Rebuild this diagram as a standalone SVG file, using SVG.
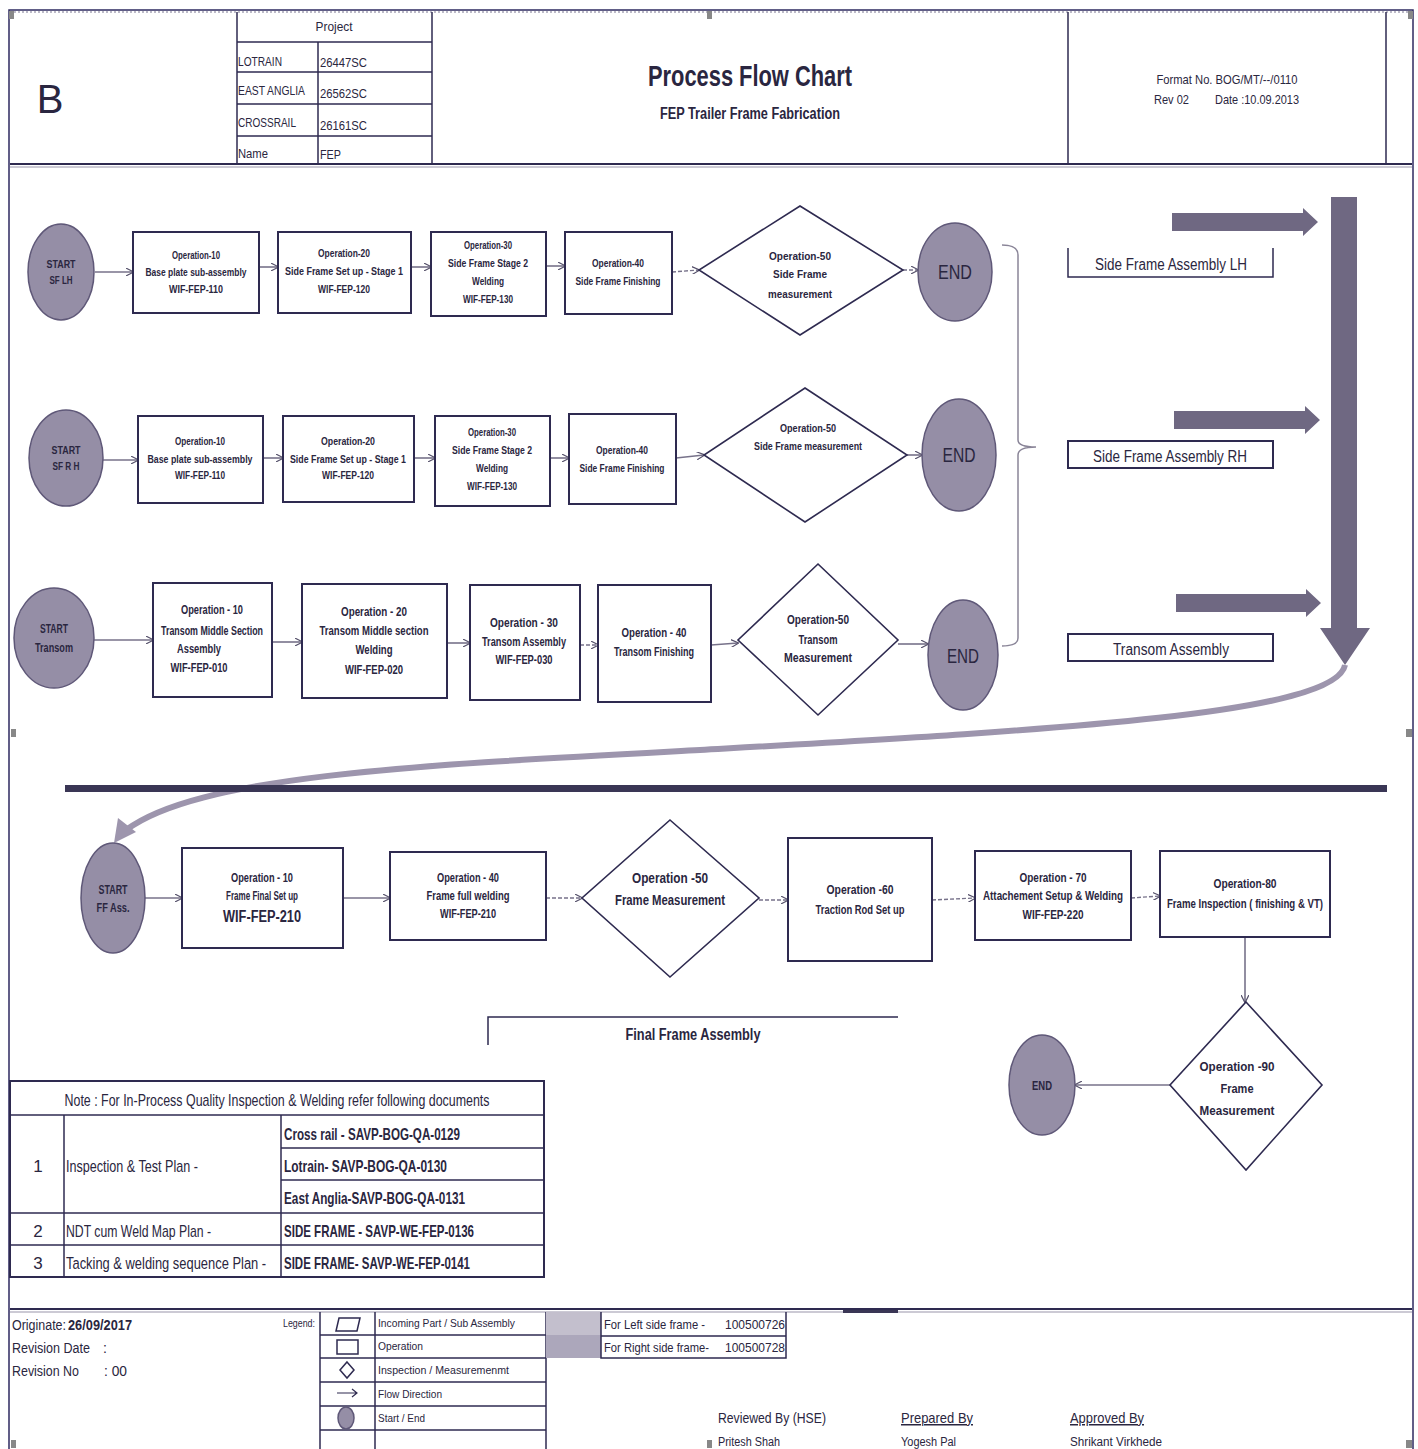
<svg xmlns="http://www.w3.org/2000/svg" width="1418" height="1449" viewBox="0 0 1418 1449">
<style>
.t{font-family:"Liberation Sans",Arial,sans-serif;fill:#2a2640}
.b{font-weight:bold}
.box{fill:#fff;stroke:#2e2a50;stroke-width:2}
.dia{fill:#fff;stroke:#2e2a50;stroke-width:1.6}
.ell{fill:#958ea6;stroke:#5f5878;stroke-width:1.5}
.ln{stroke:#2e2a50;stroke-width:1.5;fill:none}
.con{stroke:#77728a;stroke-width:1.6;fill:none;marker-end:url(#ah)}
.dcon{stroke:#77728a;stroke-width:1.4;fill:none;stroke-dasharray:4 2;marker-end:url(#ah)}
.blk{fill:#6f6882}
.h{fill:#888}
</style>
<defs>
<marker id="ah" viewBox="0 0 10 10" refX="9" refY="5" markerWidth="8" markerHeight="8" orient="auto" markerUnits="userSpaceOnUse">
<path d="M0,0 L10,5 L0,10" fill="none" stroke="#55506a" stroke-width="1.5"/>
</marker>
</defs>
<rect width="1418" height="1449" fill="#fff"/>
<!-- page frame -->
<rect x="9" y="10" width="1404" height="1445" fill="none" stroke="#2e2a60" stroke-width="1.5"/>
<line x1="10" y1="12" x2="1412" y2="12" stroke="#7a7690" stroke-width="1" stroke-dasharray="2 2"/>
<rect x="9" y="11" width="5" height="8" class="h"/><rect x="707" y="11" width="5" height="8" class="h"/><rect x="1408" y="11" width="5" height="8" class="h"/>
<rect x="11" y="729" width="5" height="8" class="h"/><rect x="1406" y="729" width="6" height="8" class="h"/>
<rect x="11" y="1440" width="5" height="8" class="h"/><rect x="707" y="1440" width="5" height="8" class="h"/><rect x="1406" y="1440" width="6" height="8" class="h"/>

<!-- header -->
<g id="header">
<line x1="10" y1="164" x2="1412" y2="164" stroke="#2e2a50" stroke-width="2"/>
<line x1="10" y1="167" x2="1412" y2="167" stroke="#9995aa" stroke-width="1"/>
<line x1="237" y1="12" x2="237" y2="164" class="ln"/>
<line x1="432" y1="12" x2="432" y2="164" class="ln"/>
<line x1="1068" y1="12" x2="1068" y2="164" class="ln"/>
<line x1="1386" y1="12" x2="1386" y2="164" class="ln"/>
<line x1="237" y1="42" x2="432" y2="42" class="ln"/>
<line x1="237" y1="72" x2="432" y2="72" class="ln"/>
<line x1="237" y1="104" x2="432" y2="104" class="ln"/>
<line x1="237" y1="136" x2="432" y2="136" class="ln"/>
<line x1="318" y1="42" x2="318" y2="164" class="ln"/>
<text x="50" y="113" class="t" font-size="40" text-anchor="middle">B</text>
<text x="334" y="31" class="t" font-size="13" text-anchor="middle" textLength="37" lengthAdjust="spacingAndGlyphs">Project</text>
<text x="238" y="66" class="t" font-size="13" textLength="44" lengthAdjust="spacingAndGlyphs">LOTRAIN</text>
<text x="320" y="67" class="t" font-size="13" textLength="47" lengthAdjust="spacingAndGlyphs">26447SC</text>
<text x="238" y="95" class="t" font-size="13" textLength="67" lengthAdjust="spacingAndGlyphs">EAST ANGLIA</text>
<text x="320" y="98" class="t" font-size="13" textLength="47" lengthAdjust="spacingAndGlyphs">26562SC</text>
<text x="238" y="127" class="t" font-size="13" textLength="58" lengthAdjust="spacingAndGlyphs">CROSSRAIL</text>
<text x="320" y="130" class="t" font-size="13" textLength="47" lengthAdjust="spacingAndGlyphs">26161SC</text>
<text x="238" y="158" class="t" font-size="13" textLength="30" lengthAdjust="spacingAndGlyphs">Name</text>
<text x="320" y="159" class="t" font-size="13" textLength="21" lengthAdjust="spacingAndGlyphs">FEP</text>
<text x="750" y="86" class="t b" font-size="29" text-anchor="middle" textLength="204" lengthAdjust="spacingAndGlyphs">Process Flow Chart</text>
<text x="750" y="119" class="t b" font-size="16" text-anchor="middle" textLength="180" lengthAdjust="spacingAndGlyphs">FEP Trailer Frame Fabrication</text>
<text x="1227" y="84" class="t" font-size="13" text-anchor="middle" textLength="141" lengthAdjust="spacingAndGlyphs">Format No. BOG/MT/--/0110</text>
<text x="1154" y="104" class="t" font-size="13" textLength="35" lengthAdjust="spacingAndGlyphs">Rev 02</text>
<text x="1215" y="104" class="t" font-size="13" textLength="84" lengthAdjust="spacingAndGlyphs">Date :10.09.2013</text>
</g>

<!-- Block arrows and curve -->
<g id="block-arrows">
<path class="blk" d="M1172,213 H1303 V208 L1318,222 L1303,236 V231 H1172 Z"/>
<path class="blk" d="M1174,411 H1305 V406 L1320,420 L1305,434 V429 H1174 Z"/>
<path class="blk" d="M1176,594 H1306 V589 L1321,603 L1306,617 V612 H1176 Z"/>
<path class="blk" d="M1331,197 H1357 V628 H1370 L1345,665 L1320,628 H1331 Z"/>
<path d="M1345,665 C1335,715 1050,730 700,750 C420,765 200,775 126,830" fill="none" stroke="#9d95ad" stroke-width="6"/>
<path d="M114,843 L118,818 L136,832 Z" fill="#9d95ad"/>
<rect x="65" y="785" width="1322" height="7" fill="#3a3655"/>
</g>

<!-- brace -->
<g id="brace">
<path d="M1002,245 Q1018,245 1018,255 V440 Q1018,447 1036,447 Q1018,447 1018,455 V638 Q1018,646 1002,646" fill="none" stroke="#8a8598" stroke-width="1.5"/>
</g>

<!-- right labels -->
<g id="label-lh">
<path d="M1068,248 V277 H1273 V248" class="ln"/>
<text x="1171" y="270" class="t" font-size="16" text-anchor="middle" textLength="152" lengthAdjust="spacingAndGlyphs">Side Frame Assembly LH</text>
</g>
<g id="label-rh">
<rect x="1068" y="441" width="205" height="27" class="box" stroke-width="1.5"/>
<text x="1170" y="462" class="t" font-size="16" text-anchor="middle" textLength="154" lengthAdjust="spacingAndGlyphs">Side Frame Assembly RH</text>
</g>
<g id="label-transom">
<rect x="1068" y="634" width="205" height="27" class="box" stroke-width="1.5"/>
<text x="1171" y="655" class="t" font-size="16" text-anchor="middle" textLength="116" lengthAdjust="spacingAndGlyphs">Transom Assembly</text>
</g>

<!-- connectors -->
<g id="connectors">
<line x1="95" y1="272" x2="133" y2="272" class="con"/>
<line x1="259" y1="267" x2="278" y2="267" class="con"/>
<line x1="411" y1="267" x2="431" y2="267" class="con"/>
<line x1="546" y1="266" x2="565" y2="266" class="con"/>
<line x1="672" y1="272" x2="699" y2="270" class="dcon"/>
<line x1="903" y1="270" x2="918" y2="270" class="dcon"/>

<line x1="103" y1="460" x2="138" y2="460" class="con"/>
<line x1="263" y1="458" x2="283" y2="458" class="con"/>
<line x1="414" y1="458" x2="435" y2="458" class="con"/>
<line x1="550" y1="458" x2="569" y2="458" class="con"/>
<line x1="676" y1="458" x2="704" y2="455" class="con"/>
<line x1="907" y1="455" x2="922" y2="455" class="con"/>

<line x1="94" y1="640" x2="153" y2="640" class="con"/>
<line x1="272" y1="642" x2="302" y2="642" class="con"/>
<line x1="447" y1="643" x2="470" y2="643" class="con"/>
<line x1="580" y1="645" x2="598" y2="645" class="dcon"/>
<line x1="711" y1="645" x2="738" y2="643" class="con"/>
<line x1="898" y1="644" x2="928" y2="644" class="con"/>

<line x1="145" y1="898" x2="182" y2="898" class="con"/>
<line x1="343" y1="898" x2="390" y2="898" class="con"/>
<line x1="546" y1="898" x2="582" y2="898" class="dcon"/>
<line x1="759" y1="900" x2="788" y2="900" class="dcon"/>
<line x1="932" y1="900" x2="975" y2="898" class="dcon"/>
<line x1="1131" y1="898" x2="1160" y2="896" class="dcon"/>
<line x1="1245" y1="937" x2="1245" y2="1002" class="con"/>
<line x1="1170" y1="1085" x2="1075" y2="1085" class="con"/>
</g>

<!-- Row 1 -->
<g id="start-sflh"><ellipse cx="61" cy="272" rx="33" ry="48" class="ell"/>
<text x="61" y="268" class="t b" font-size="11" text-anchor="middle" textLength="29" lengthAdjust="spacingAndGlyphs">START</text><text x="61" y="284" class="t b" font-size="11" text-anchor="middle" textLength="23" lengthAdjust="spacingAndGlyphs">SF LH</text></g>
<g id="r1-op10"><rect x="133" y="232" width="126" height="81" class="box"/>
<text x="196" y="259" class="t b" font-size="10" text-anchor="middle" textLength="48" lengthAdjust="spacingAndGlyphs">Operation-10</text><text x="196" y="276" class="t b" font-size="10" text-anchor="middle" textLength="101" lengthAdjust="spacingAndGlyphs">Base plate sub-assembly</text><text x="196" y="293" class="t b" font-size="10" text-anchor="middle" textLength="54" lengthAdjust="spacingAndGlyphs">WIF-FEP-110</text></g>
<g id="r1-op20"><rect x="278" y="232" width="133" height="81" class="box"/>
<text x="344" y="257" class="t b" font-size="10" text-anchor="middle" textLength="52" lengthAdjust="spacingAndGlyphs">Operation-20</text><text x="344" y="275" class="t b" font-size="10" text-anchor="middle" textLength="118" lengthAdjust="spacingAndGlyphs">Side Frame Set up - Stage 1</text><text x="344" y="293" class="t b" font-size="10" text-anchor="middle" textLength="52" lengthAdjust="spacingAndGlyphs">WIF-FEP-120</text></g>
<g id="r1-op30"><rect x="431" y="232" width="115" height="84" class="box"/>
<text x="488" y="249" class="t b" font-size="10" text-anchor="middle" textLength="48" lengthAdjust="spacingAndGlyphs">Operation-30</text><text x="488" y="267" class="t b" font-size="10" text-anchor="middle" textLength="80" lengthAdjust="spacingAndGlyphs">Side Frame Stage 2</text><text x="488" y="285" class="t b" font-size="10" text-anchor="middle" textLength="32" lengthAdjust="spacingAndGlyphs">Welding</text><text x="488" y="303" class="t b" font-size="10" text-anchor="middle" textLength="50" lengthAdjust="spacingAndGlyphs">WIF-FEP-130</text></g>
<g id="r1-op40"><rect x="565" y="232" width="107" height="82" class="box"/>
<text x="618" y="267" class="t b" font-size="10" text-anchor="middle" textLength="52" lengthAdjust="spacingAndGlyphs">Operation-40</text><text x="618" y="285" class="t b" font-size="10" text-anchor="middle" textLength="85" lengthAdjust="spacingAndGlyphs">Side Frame Finishing</text></g>
<g id="r1-op50"><polygon points="800,206 903,270 800,335 699,270" class="dia"/>
<text x="800" y="260" class="t b" font-size="11" text-anchor="middle" textLength="62" lengthAdjust="spacingAndGlyphs">Operation-50</text><text x="800" y="278" class="t b" font-size="11" text-anchor="middle" textLength="54" lengthAdjust="spacingAndGlyphs">Side Frame</text><text x="800" y="298" class="t b" font-size="11" text-anchor="middle" textLength="64" lengthAdjust="spacingAndGlyphs">measurement</text></g>
<g id="r1-end"><ellipse cx="955" cy="272" rx="37" ry="49" class="ell"/>
<text x="955" y="279" class="t" font-size="20" text-anchor="middle" textLength="34" lengthAdjust="spacingAndGlyphs">END</text></g>

<!-- Row 2 -->
<g id="start-sfrh"><ellipse cx="66" cy="458" rx="37" ry="48" class="ell"/>
<text x="66" y="454" class="t b" font-size="11" text-anchor="middle" textLength="29" lengthAdjust="spacingAndGlyphs">START</text><text x="66" y="470" class="t b" font-size="11" text-anchor="middle" textLength="27" lengthAdjust="spacingAndGlyphs">SF R H</text></g>
<g id="r2-op10"><rect x="138" y="416" width="125" height="87" class="box"/>
<text x="200" y="445" class="t b" font-size="10" text-anchor="middle" textLength="50" lengthAdjust="spacingAndGlyphs">Operation-10</text><text x="200" y="463" class="t b" font-size="10" text-anchor="middle" textLength="105" lengthAdjust="spacingAndGlyphs">Base plate sub-assembly</text><text x="200" y="479" class="t b" font-size="10" text-anchor="middle" textLength="50" lengthAdjust="spacingAndGlyphs">WIF-FEP-110</text></g>
<g id="r2-op20"><rect x="283" y="416" width="131" height="86" class="box"/>
<text x="348" y="445" class="t b" font-size="10" text-anchor="middle" textLength="54" lengthAdjust="spacingAndGlyphs">Operation-20</text><text x="348" y="463" class="t b" font-size="10" text-anchor="middle" textLength="116" lengthAdjust="spacingAndGlyphs">Side Frame Set up - Stage 1</text><text x="348" y="479" class="t b" font-size="10" text-anchor="middle" textLength="52" lengthAdjust="spacingAndGlyphs">WIF-FEP-120</text></g>
<g id="r2-op30"><rect x="435" y="416" width="115" height="90" class="box"/>
<text x="492" y="436" class="t b" font-size="10" text-anchor="middle" textLength="48" lengthAdjust="spacingAndGlyphs">Operation-30</text><text x="492" y="454" class="t b" font-size="10" text-anchor="middle" textLength="80" lengthAdjust="spacingAndGlyphs">Side Frame Stage 2</text><text x="492" y="472" class="t b" font-size="10" text-anchor="middle" textLength="32" lengthAdjust="spacingAndGlyphs">Welding</text><text x="492" y="490" class="t b" font-size="10" text-anchor="middle" textLength="50" lengthAdjust="spacingAndGlyphs">WIF-FEP-130</text></g>
<g id="r2-op40"><rect x="569" y="414" width="107" height="90" class="box"/>
<text x="622" y="454" class="t b" font-size="10" text-anchor="middle" textLength="52" lengthAdjust="spacingAndGlyphs">Operation-40</text><text x="622" y="472" class="t b" font-size="10" text-anchor="middle" textLength="85" lengthAdjust="spacingAndGlyphs">Side Frame Finishing</text></g>
<g id="r2-op50"><polygon points="805,388 907,455 805,522 704,455" class="dia"/>
<text x="808" y="432" class="t b" font-size="10" text-anchor="middle" textLength="56" lengthAdjust="spacingAndGlyphs">Operation-50</text><text x="808" y="450" class="t b" font-size="10" text-anchor="middle" textLength="108" lengthAdjust="spacingAndGlyphs">Side Frame measurement</text></g>
<g id="r2-end"><ellipse cx="959" cy="455" rx="37" ry="56" class="ell"/>
<text x="959" y="462" class="t" font-size="20" text-anchor="middle" textLength="33" lengthAdjust="spacingAndGlyphs">END</text></g>

<!-- Row 3 -->
<g id="start-transom"><ellipse cx="54" cy="638" rx="40" ry="50" class="ell"/>
<text x="54" y="633" class="t b" font-size="12" text-anchor="middle" textLength="28" lengthAdjust="spacingAndGlyphs">START</text><text x="54" y="652" class="t b" font-size="12" text-anchor="middle" textLength="38" lengthAdjust="spacingAndGlyphs">Transom</text></g>
<g id="r3-op10"><rect x="153" y="583" width="119" height="114" class="box"/>
<text x="212" y="614" class="t b" font-size="12" text-anchor="middle" textLength="62" lengthAdjust="spacingAndGlyphs">Operation - 10</text><text x="212" y="635" class="t b" font-size="12" text-anchor="middle" textLength="102" lengthAdjust="spacingAndGlyphs">Transom Middle Section</text><text x="199" y="653" class="t b" font-size="12" text-anchor="middle" textLength="44" lengthAdjust="spacingAndGlyphs">Assembly</text><text x="199" y="672" class="t b" font-size="12" text-anchor="middle" textLength="57" lengthAdjust="spacingAndGlyphs">WIF-FEP-010</text></g>
<g id="r3-op20"><rect x="302" y="584" width="145" height="114" class="box"/>
<text x="374" y="616" class="t b" font-size="12" text-anchor="middle" textLength="66" lengthAdjust="spacingAndGlyphs">Operation - 20</text><text x="374" y="635" class="t b" font-size="12" text-anchor="middle" textLength="109" lengthAdjust="spacingAndGlyphs">Transom Middle section</text><text x="374" y="654" class="t b" font-size="12" text-anchor="middle" textLength="37" lengthAdjust="spacingAndGlyphs">Welding</text><text x="374" y="674" class="t b" font-size="12" text-anchor="middle" textLength="58" lengthAdjust="spacingAndGlyphs">WIF-FEP-020</text></g>
<g id="r3-op30"><rect x="470" y="585" width="110" height="115" class="box"/>
<text x="524" y="627" class="t b" font-size="12" text-anchor="middle" textLength="68" lengthAdjust="spacingAndGlyphs">Operation - 30</text><text x="524" y="646" class="t b" font-size="12" text-anchor="middle" textLength="84" lengthAdjust="spacingAndGlyphs">Transom Assembly</text><text x="524" y="664" class="t b" font-size="12" text-anchor="middle" textLength="57" lengthAdjust="spacingAndGlyphs">WIF-FEP-030</text></g>
<g id="r3-op40"><rect x="598" y="585" width="113" height="117" class="box"/>
<text x="654" y="637" class="t b" font-size="12" text-anchor="middle" textLength="65" lengthAdjust="spacingAndGlyphs">Operation - 40</text><text x="654" y="656" class="t b" font-size="12" text-anchor="middle" textLength="80" lengthAdjust="spacingAndGlyphs">Transom Finishing</text></g>
<g id="r3-op50"><polygon points="818,564 898,640 818,715 738,640" class="dia"/>
<text x="818" y="624" class="t b" font-size="12" text-anchor="middle" textLength="62" lengthAdjust="spacingAndGlyphs">Operation-50</text><text x="818" y="644" class="t b" font-size="12" text-anchor="middle" textLength="39" lengthAdjust="spacingAndGlyphs">Transom</text><text x="818" y="662" class="t b" font-size="12" text-anchor="middle" textLength="68" lengthAdjust="spacingAndGlyphs">Measurement</text></g>
<g id="r3-end"><ellipse cx="963" cy="655" rx="35" ry="55" class="ell"/>
<text x="963" y="663" class="t" font-size="20" text-anchor="middle" textLength="32" lengthAdjust="spacingAndGlyphs">END</text></g>

<!-- Final row -->
<g id="start-ff"><ellipse cx="113" cy="898" rx="32" ry="55" class="ell"/>
<text x="113" y="894" class="t b" font-size="12" text-anchor="middle" textLength="29" lengthAdjust="spacingAndGlyphs">START</text><text x="113" y="912" class="t b" font-size="12" text-anchor="middle" textLength="33" lengthAdjust="spacingAndGlyphs">FF Ass.</text></g>
<g id="f-op10"><rect x="182" y="848" width="161" height="100" class="box"/>
<text x="262" y="882" class="t b" font-size="12" text-anchor="middle" textLength="62" lengthAdjust="spacingAndGlyphs">Operation - 10</text><text x="262" y="900" class="t b" font-size="12" text-anchor="middle" textLength="72" lengthAdjust="spacingAndGlyphs">Frame Final Set up</text><text x="262" y="922" class="t b" font-size="16" text-anchor="middle" textLength="78" lengthAdjust="spacingAndGlyphs">WIF-FEP-210</text></g>
<g id="f-op40"><rect x="390" y="852" width="156" height="88" class="box"/>
<text x="468" y="882" class="t b" font-size="12" text-anchor="middle" textLength="62" lengthAdjust="spacingAndGlyphs">Operation - 40</text><text x="468" y="900" class="t b" font-size="12" text-anchor="middle" textLength="83" lengthAdjust="spacingAndGlyphs">Frame full welding</text><text x="468" y="918" class="t b" font-size="12" text-anchor="middle" textLength="56" lengthAdjust="spacingAndGlyphs">WIF-FEP-210</text></g>
<g id="f-op50"><polygon points="670,820 759,898 670,977 582,898" class="dia"/>
<text x="670" y="883" class="t b" font-size="14" text-anchor="middle" textLength="76" lengthAdjust="spacingAndGlyphs">Operation -50</text><text x="670" y="905" class="t b" font-size="14" text-anchor="middle" textLength="110" lengthAdjust="spacingAndGlyphs">Frame Measurement</text></g>
<g id="f-op60"><rect x="788" y="838" width="144" height="123" class="box"/>
<text x="860" y="894" class="t b" font-size="12" text-anchor="middle" textLength="67" lengthAdjust="spacingAndGlyphs">Operation -60</text><text x="860" y="914" class="t b" font-size="12" text-anchor="middle" textLength="89" lengthAdjust="spacingAndGlyphs">Traction Rod Set up</text></g>
<g id="f-op70"><rect x="975" y="851" width="156" height="89" class="box"/>
<text x="1053" y="882" class="t b" font-size="12" text-anchor="middle" textLength="67" lengthAdjust="spacingAndGlyphs">Operation - 70</text><text x="1053" y="900" class="t b" font-size="12" text-anchor="middle" textLength="140" lengthAdjust="spacingAndGlyphs">Attachement Setup &amp; Welding</text><text x="1053" y="919" class="t b" font-size="12" text-anchor="middle" textLength="61" lengthAdjust="spacingAndGlyphs">WIF-FEP-220</text></g>
<g id="f-op80"><rect x="1160" y="851" width="170" height="86" class="box"/>
<text x="1245" y="888" class="t b" font-size="12" text-anchor="middle" textLength="63" lengthAdjust="spacingAndGlyphs">Operation-80</text><text x="1245" y="908" class="t b" font-size="12" text-anchor="middle" textLength="156" lengthAdjust="spacingAndGlyphs">Frame Inspection ( finishing &amp; VT)</text></g>
<g id="f-op90"><polygon points="1246,1002 1322,1085 1246,1170 1170,1085" class="dia"/>
<text x="1237" y="1071" class="t b" font-size="13" text-anchor="middle" textLength="75" lengthAdjust="spacingAndGlyphs">Operation -90</text><text x="1237" y="1093" class="t b" font-size="13" text-anchor="middle" textLength="33" lengthAdjust="spacingAndGlyphs">Frame</text><text x="1237" y="1115" class="t b" font-size="13" text-anchor="middle" textLength="75" lengthAdjust="spacingAndGlyphs">Measurement</text></g>
<g id="f-end"><ellipse cx="1042" cy="1085" rx="33" ry="50" class="ell"/>
<text x="1042" y="1090" class="t b" font-size="12" text-anchor="middle" textLength="20" lengthAdjust="spacingAndGlyphs">END</text></g>

<g id="label-final">
<path d="M488,1045 V1017 H898" class="ln"/>
<text x="693" y="1040" class="t b" font-size="16" text-anchor="middle" textLength="135" lengthAdjust="spacingAndGlyphs">Final Frame Assembly</text>
</g>

<!-- Note table -->
<g id="note-table">
<rect x="10" y="1081" width="534" height="196" fill="none" stroke="#2e2a50" stroke-width="2"/>
<line x1="10" y1="1115" x2="544" y2="1115" class="ln" stroke-width="2"/>
<line x1="281" y1="1148" x2="544" y2="1148" class="ln" stroke-width="2"/>
<line x1="281" y1="1180" x2="544" y2="1180" class="ln" stroke-width="2"/>
<line x1="10" y1="1213" x2="544" y2="1213" class="ln" stroke-width="2"/>
<line x1="10" y1="1245" x2="544" y2="1245" class="ln" stroke-width="2"/>
<line x1="64" y1="1115" x2="64" y2="1277" class="ln"/>
<line x1="281" y1="1115" x2="281" y2="1277" class="ln"/>
<text x="277" y="1106" class="t" font-size="17" text-anchor="middle" textLength="425" lengthAdjust="spacingAndGlyphs">Note : For In-Process Quality Inspection &amp; Welding refer following documents</text>
<text x="38" y="1172" class="t" font-size="17" text-anchor="middle">1</text>
<text x="66" y="1172" class="t" font-size="17" textLength="132" lengthAdjust="spacingAndGlyphs">Inspection &amp; Test Plan -</text>
<text x="284" y="1140" class="t b" font-size="17" textLength="176" lengthAdjust="spacingAndGlyphs">Cross rail - SAVP-BOG-QA-0129</text>
<text x="284" y="1172" class="t b" font-size="17" textLength="163" lengthAdjust="spacingAndGlyphs">Lotrain- SAVP-BOG-QA-0130</text>
<text x="284" y="1204" class="t b" font-size="17" textLength="181" lengthAdjust="spacingAndGlyphs">East Anglia-SAVP-BOG-QA-0131</text>
<text x="38" y="1237" class="t" font-size="17" text-anchor="middle">2</text>
<text x="66" y="1237" class="t" font-size="17" textLength="145" lengthAdjust="spacingAndGlyphs">NDT cum Weld Map Plan -</text>
<text x="284" y="1237" class="t b" font-size="17" textLength="190" lengthAdjust="spacingAndGlyphs">SIDE FRAME - SAVP-WE-FEP-0136</text>
<text x="38" y="1269" class="t" font-size="17" text-anchor="middle">3</text>
<text transform="translate(66,1269) scale(0.76,1)" class="t" font-size="17">Tacking &amp; welding sequence Plan -</text>
<text x="284" y="1269" class="t b" font-size="17" textLength="186" lengthAdjust="spacingAndGlyphs">SIDE FRAME- SAVP-WE-FEP-0141</text>
</g>

<!-- Footer -->
<g id="footer">
<line x1="10" y1="1309" x2="1412" y2="1309" stroke="#2e2a50" stroke-width="2"/>
<line x1="10" y1="1312" x2="1412" y2="1312" stroke="#9995aa" stroke-width="1"/>
<rect x="843" y="1310" width="55" height="3" fill="#3a3655"/>
<text x="12" y="1330" class="t" font-size="14" textLength="54" lengthAdjust="spacingAndGlyphs">Originate:</text>
<text x="68" y="1330" class="t b" font-size="14" textLength="64" lengthAdjust="spacingAndGlyphs">26/09/2017</text>
<text x="12" y="1353" class="t" font-size="14" textLength="78" lengthAdjust="spacingAndGlyphs">Revision Date</text>
<text x="103" y="1353" class="t" font-size="14">:</text>
<text x="12" y="1376" class="t" font-size="14" textLength="67" lengthAdjust="spacingAndGlyphs">Revision No</text>
<text x="104" y="1376" class="t" font-size="14" textLength="23" lengthAdjust="spacingAndGlyphs">: 00</text>
<text x="283" y="1327" class="t" font-size="10" textLength="32" lengthAdjust="spacingAndGlyphs">Legend:</text>
</g>
<g id="legend">
<line x1="320" y1="1312" x2="320" y2="1449" class="ln"/>
<line x1="375" y1="1312" x2="375" y2="1449" class="ln"/>
<line x1="546" y1="1312" x2="546" y2="1449" class="ln"/>
<line x1="320" y1="1335" x2="546" y2="1335" class="ln" stroke-width="2"/>
<line x1="320" y1="1358" x2="546" y2="1358" class="ln" stroke-width="2"/>
<line x1="320" y1="1382" x2="546" y2="1382" class="ln" stroke-width="2"/>
<line x1="320" y1="1406" x2="546" y2="1406" class="ln" stroke-width="2"/>
<line x1="320" y1="1430" x2="546" y2="1430" class="ln" stroke-width="2"/>
<path d="M339,1318 H360 L357,1331 H336 Z" fill="#fff" stroke="#2e2a50" stroke-width="1.5"/>
<rect x="337" y="1340" width="21" height="14" fill="#fff" stroke="#2e2a50" stroke-width="1.5"/>
<polygon points="347,1362 354,1370 347,1378 340,1370" fill="#fff" stroke="#2e2a50" stroke-width="1.5"/>
<path d="M337,1393 H357 M352,1389 L357,1393 L352,1397" fill="none" stroke="#2e2a50" stroke-width="1.2"/>
<ellipse cx="346" cy="1418" rx="8" ry="11" class="ell"/>
<text x="378" y="1327" class="t" font-size="11" textLength="137" lengthAdjust="spacingAndGlyphs">Incoming Part / Sub Assembly</text>
<text x="378" y="1350" class="t" font-size="11" textLength="45" lengthAdjust="spacingAndGlyphs">Operation</text>
<text x="378" y="1374" class="t" font-size="11" textLength="131" lengthAdjust="spacingAndGlyphs">Inspection / Measuremenmt</text>
<text x="378" y="1398" class="t" font-size="11" textLength="64" lengthAdjust="spacingAndGlyphs">Flow Direction</text>
<text x="378" y="1422" class="t" font-size="11" textLength="47" lengthAdjust="spacingAndGlyphs">Start / End</text>
</g>
<g id="frame-numbers">
<rect x="546" y="1312" width="55" height="23" fill="#c3bfcd"/>
<rect x="546" y="1335" width="55" height="23" fill="#aca7bb"/>
<path d="M601,1312 V1358 H786 V1312 M601,1336 H786" class="ln"/>
<text x="604" y="1329" class="t" font-size="13" textLength="101" lengthAdjust="spacingAndGlyphs">For Left side frame -</text>
<text x="725" y="1329" class="t" font-size="13" textLength="60" lengthAdjust="spacingAndGlyphs">100500726</text>
<text x="604" y="1352" class="t" font-size="13" textLength="105" lengthAdjust="spacingAndGlyphs">For Right side frame-</text>
<text x="725" y="1352" class="t" font-size="13" textLength="60" lengthAdjust="spacingAndGlyphs">100500728</text>
</g>
<g id="signatures">
<text x="718" y="1423" class="t" font-size="15" textLength="108" lengthAdjust="spacingAndGlyphs">Reviewed By (HSE)</text>
<text x="718" y="1446" class="t" font-size="12" textLength="62" lengthAdjust="spacingAndGlyphs">Pritesh Shah</text>
<text x="901" y="1423" class="t" font-size="15" text-decoration="underline" textLength="72" lengthAdjust="spacingAndGlyphs">Prepared By</text>
<text x="901" y="1446" class="t" font-size="12" textLength="55" lengthAdjust="spacingAndGlyphs">Yogesh Pal</text>
<text x="1070" y="1423" class="t" font-size="15" text-decoration="underline" textLength="74" lengthAdjust="spacingAndGlyphs">Approved By</text>
<text x="1070" y="1446" class="t" font-size="12" textLength="92" lengthAdjust="spacingAndGlyphs">Shrikant Virkhede</text>
</g>
</svg>
